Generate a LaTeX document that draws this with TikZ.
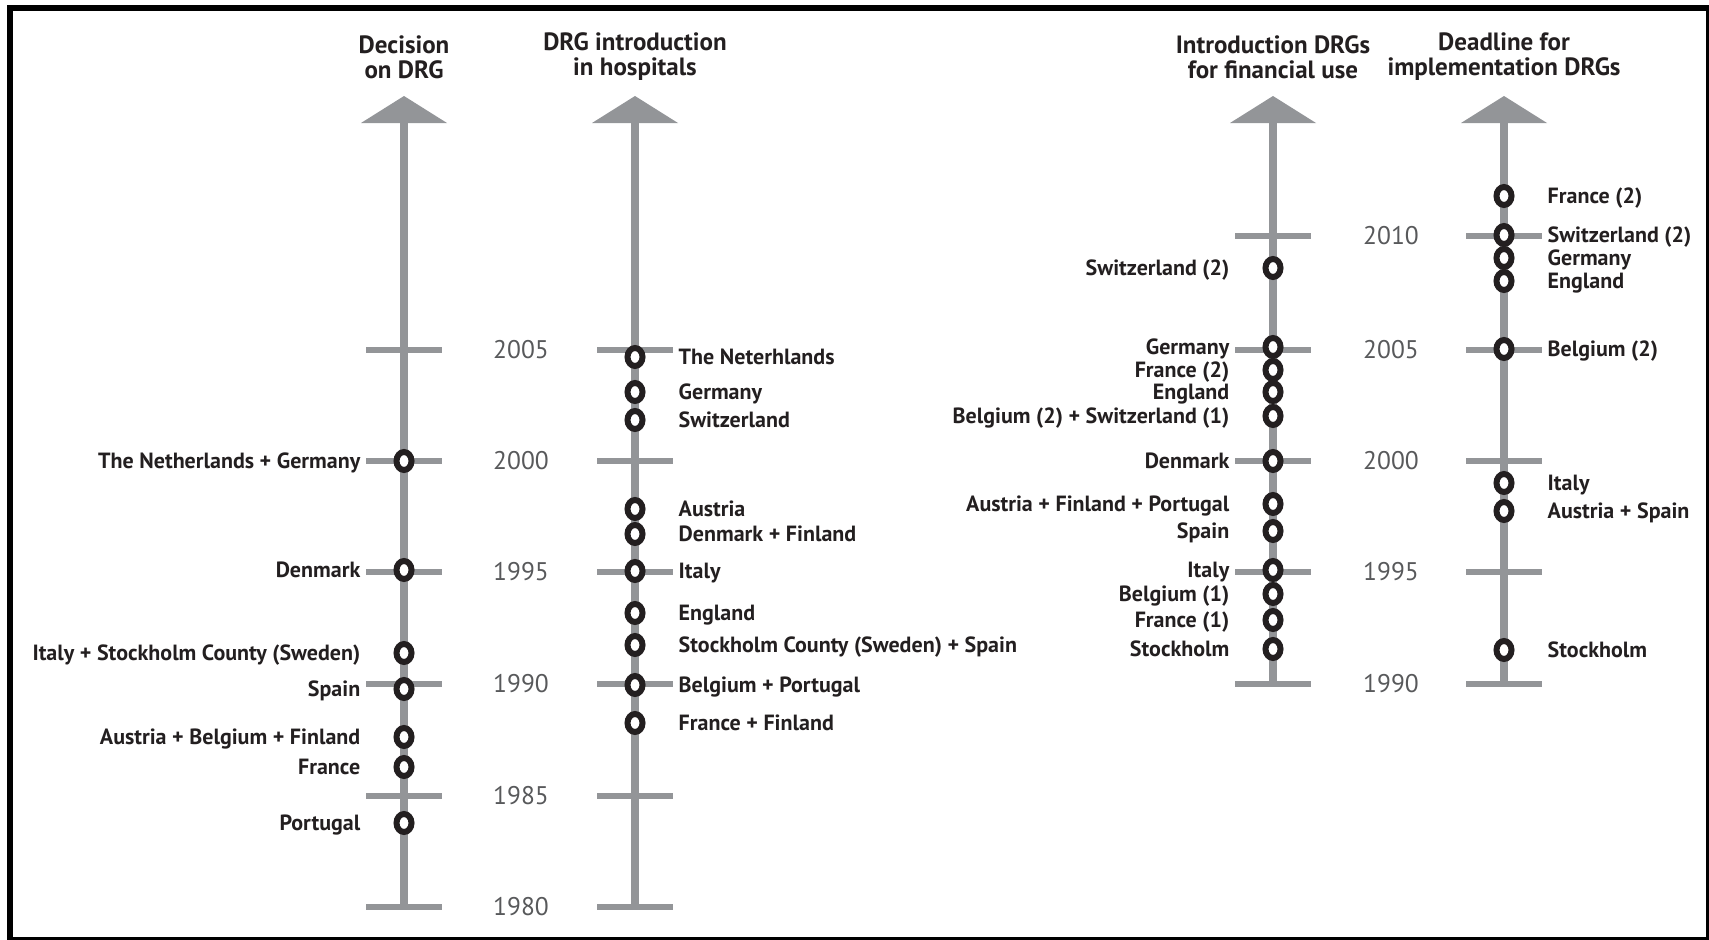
\documentclass[tikz,border=0pt]{standalone}
\usepackage{fontspec}
\setmainfont{PT Sans}
\usetikzlibrary{positioning, shapes.geometric}

\definecolor{axisgray}{HTML}{939598}
\definecolor{yeargray}{HTML}{58595B}
\definecolor{inkblack}{HTML}{231F20}

\begin{document}
\begin{tikzpicture}[
  x=1pt, y=-1pt,
  node distance=33pt,
  axisline/.style={draw=axisgray, line width=8pt},
  tickline/.style={draw=axisgray, line width=6pt},
  dot/.style={ellipse, draw=inkblack, fill=white, line width=6pt, minimum width=15pt, minimum height=18pt, inner sep=0pt},
  lbl/.style={font=\fontsize{22}{24}\selectfont\bfseries, text=inkblack, inner sep=0pt, text height=16pt, text depth=1pt},
  yearlbl/.style={font=\fontsize{25.5}{27}\selectfont, text=yeargray, inner sep=0pt},
  title/.style={font=\fontsize{25}{25}\selectfont\bfseries, text=inkblack, align=center, inner sep=0pt}
]
\useasboundingbox (0,0) rectangle (1709,940);
\draw[line width=6pt] (10,8) rectangle (1709,940);

% axes with arrow heads
\foreach \x/\ybot in {404/907, 635/907, 1273/684, 1504/684} {
  \draw[axisline] (\x,\ybot) -- (\x,118);
  \fill[axisgray] (\x-43,123) -- (\x,96) -- (\x+43,123) -- cycle;
}

% ticks
\foreach \x in {404, 635}
  \foreach \y in {350, 461, 572, 684, 796, 907}
    \draw[tickline] (\x-38,\y) -- (\x+38,\y);
\foreach \x in {1273, 1504}
  \foreach \y in {236, 350, 461, 572, 684}
    \draw[tickline] (\x-38,\y) -- (\x+38,\y);

% years
\foreach \y/\yr in {350/2005, 461/2000, 572/1995, 684/1990, 796/1985, 907/1980}
  \node[yearlbl] (yl-\yr) at (521,\y) {\yr};
\foreach \y/\yr in {236/2010, 350/2005, 461/2000, 572/1995, 684/1990}
  \node[yearlbl] (yr-\yr) at (1391,\y) {\yr};

% titles
\node[title] (decision) at (404,57) {Decision\\on DRG};
\node[title] (hospital) at (635,57) {DRG introduction\\in hospitals};
\node[title] (financial) at (1273,57) {Introduction DRGs\\for financial use};
\node[title] (deadline) at (1504,57) {Deadline for\\implementation DRGs};

% decision on DRG
\foreach \y/\txt [count=\i] in {461/The Netherlands + Germany, 570/Denmark, 653/Italy + Stockholm County (Sweden), 689/Spain, 737/Austria + Belgium + Finland, 767/France, 823/Portugal} {
  \node[dot] (dec-\i) at (404,\y) {};
  \node[lbl, left=of dec-\i] (decl-\i) {\txt};
}

% introduction in hospitals
\foreach \y/\txt [count=\i] in {357/The Neterhlands, 392/Germany, 420/Switzerland, 509/Austria, 534/Denmark + Finland, 571/Italy, 613/England, 645/Stockholm County (Sweden) + Spain, 685/Belgium + Portugal, 723/France + Finland} {
  \node[dot] (hos-\i) at (635,\y) {};
  \node[lbl, right=of hos-\i] (hosl-\i) {\txt};
}

% financial use
\foreach \y/\txt [count=\i] in {268/Switzerland (2), 347/Germany, 370/France (2), 392/England, 416/Belgium (2) + Switzerland (1), 461/Denmark, 504/Austria + Finland + Portugal, 531/Spain, 570/Italy, 594/Belgium (1), 620/France (1), 649/Stockholm} {
  \node[dot] (fin-\i) at (1273,\y) {};
  \node[lbl, left=of fin-\i] (finl-\i) {\txt};
}

% deadline
\foreach \y/\txt [count=\i] in {196/France (2), 235/Switzerland (2), 258/Germany, 281/England, 349/Belgium (2), 483/Italy, 511/Austria + Spain, 650/Stockholm} {
  \node[dot] (dea-\i) at (1504,\y) {};
  \node[lbl, right=of dea-\i] (deal-\i) {\txt};
}
\end{tikzpicture}
\end{document}
